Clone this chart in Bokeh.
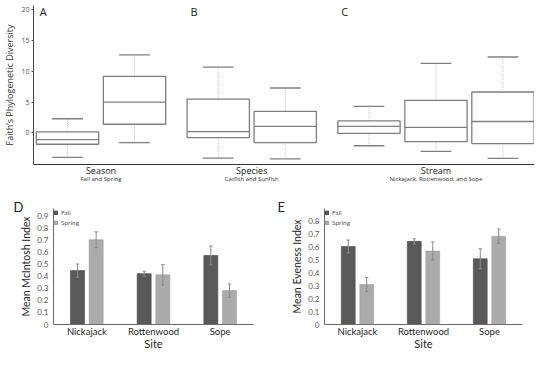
from bokeh.plotting import figure
from bokeh.models import (Range1d, FactorRange, LinearAxis, FixedTicker, ColumnDataSource,
                          Label, CustomJSTickFormatter)
from bokeh.transform import dodge
from bokeh.layouts import column, row
from bokeh.embed import file_html
from bokeh.resources import INLINE

# ---------------- top panel data (box plots) ----------------
box_groups = ["Season", "Species", "Stream"]
box_group_notes = ["Fall and Spring", "Catfish and Sunfish", "Nickajack, Rottenwood, and Sope"]
box_group_letters = ["A", "B", "C"]
box_names = ["Fall", "Spring", "Catfish", "Sunfish", "Nickajack", "Rottenwood", "Sope"]
box_group_index = [0, 0, 1, 1, 2, 2, 2]
box_whisker_low = [-4.0, -1.6, -4.1, -4.25, -2.1, -3.0, -4.15]
box_q1 = [-1.85, 1.4, -0.77, -1.6, -0.1, -1.43, -1.76]
box_median = [-1.1, 5.0, 0.2, 1.05, 1.05, 0.9, 1.85]
box_q3 = [0.15, 9.2, 5.5, 3.5, 1.95, 5.3, 6.65]
box_whisker_high = [2.3, 12.7, 10.7, 7.3, 4.3, 11.3, 12.35]
box_y_ticks = [0, 5, 10, 15, 20]

# ---------------- bottom panels data (bar charts) ----------------
sites = ["Nickajack", "Rottenwood", "Sope"]
seasons = ["Fall", "Spring"]
site_axis_title = "Site"
mcintosh_fall = [0.445, 0.42, 0.57]
mcintosh_fall_err = [0.055, 0.02, 0.078]
mcintosh_spring = [0.70, 0.41, 0.28]
mcintosh_spring_err = [0.065, 0.085, 0.055]
evenness_fall = [0.605, 0.645, 0.51]
evenness_fall_err = [0.05, 0.02, 0.078]
evenness_spring = [0.31, 0.57, 0.685]
evenness_spring_err = [0.055, 0.07, 0.055]
mcintosh_ticks = [0, 0.1, 0.2, 0.3, 0.4, 0.5, 0.6, 0.7, 0.8, 0.9]
evenness_ticks = [0, 0.1, 0.2, 0.3, 0.4, 0.5, 0.6, 0.7, 0.8]

TOP_FONT = "Open Sans"
BOT_FONT = "Lato"
BOX_LINE = "#7f7f7f"
WHISKER_LINE = "#c4c4c4"
FALL_COLOR = "#595959"
SPRING_COLOR = "#ababab"
ERR_COLOR = "#8a8a8a"

# ---------------- top figure ----------------
GAP = 0.25
BOX_W = 0.93
CAP_W = 0.46
pos = [i + GAP * g for i, g in enumerate(box_group_index)]

top = figure(width=534, height=187, x_range=Range1d(-0.508, 6.971), y_range=Range1d(-5.15, 20.73),
             output_backend="svg", toolbar_location=None, x_axis_location=None, title=None,
             min_border_left=26, min_border_right=0, min_border_top=5, min_border_bottom=23)
top.outline_line_color = None
top.grid.visible = False

bsrc = ColumnDataSource(dict(
    x=pos,
    left=[p - BOX_W / 2 for p in pos], right=[p + BOX_W / 2 for p in pos],
    cl=[p - CAP_W / 2 for p in pos], cr=[p + CAP_W / 2 for p in pos],
    lo=box_whisker_low, q1=box_q1, med=box_median, q3=box_q3, hi=box_whisker_high,
))
top.segment(x0="x", y0="q3", x1="x", y1="hi", source=bsrc, line_color=WHISKER_LINE,
            line_width=1, line_dash="1 1")
top.segment(x0="x", y0="lo", x1="x", y1="q1", source=bsrc, line_color=WHISKER_LINE,
            line_width=1, line_dash="1 1")
top.quad(left="left", right="right", bottom="q1", top="q3", source=bsrc,
         fill_color="white", line_color=BOX_LINE, line_width=1.3)
top.segment(x0="left", y0="med", x1="right", y1="med", source=bsrc, line_color=BOX_LINE, line_width=1.3)
top.segment(x0="cl", y0="hi", x1="cr", y1="hi", source=bsrc, line_color=BOX_LINE, line_width=1.3)
top.segment(x0="cl", y0="lo", x1="cr", y1="lo", source=bsrc, line_color=BOX_LINE, line_width=1.3)

yax = top.yaxis[0]
yax.ticker = FixedTicker(ticks=box_y_ticks)
yax.axis_label = "Faith\u2019s Phylogenetic Diversity"
yax.axis_label_text_font = TOP_FONT
yax.axis_label_text_font_size = "9px"
yax.axis_label_text_font_style = "normal"
yax.axis_label_text_color = "#333333"
yax.axis_label_standoff = 2
yax.major_label_text_font = TOP_FONT
yax.major_label_text_font_size = "7px"
yax.major_label_text_color = "#555555"
yax.major_label_standoff = 2
yax.major_tick_out = 2
yax.major_tick_in = 0
yax.major_tick_line_color = "#555555"
yax.minor_tick_line_color = None
yax.axis_line_color = "#444444"

group_centers = []
for g in range(len(box_groups)):
    members = [pos[i] for i in range(len(pos)) if box_group_index[i] == g]
    group_centers.append((min(members) + max(members)) / 2)

xax = LinearAxis(ticker=FixedTicker(ticks=group_centers),
                 major_label_overrides={c: n for c, n in zip(group_centers, box_groups)})
xax.major_label_text_font = TOP_FONT
xax.major_label_text_font_size = "9px"
xax.major_label_text_color = "#222222"
xax.major_label_standoff = -1
xax.major_tick_out = 0
xax.major_tick_in = 0
xax.minor_tick_line_color = None
xax.axis_line_color = "#333333"
top.add_layout(xax, "below")

xax2 = LinearAxis(ticker=FixedTicker(ticks=group_centers),
                  major_label_overrides={c: n for c, n in zip(group_centers, box_group_notes)})
xax2.major_label_text_font = TOP_FONT
xax2.major_label_text_font_size = "6px"
xax2.major_label_text_color = "#333333"
xax2.major_label_standoff = -5
xax2.major_tick_out = 0
xax2.major_tick_in = 0
xax2.minor_tick_line_color = None
xax2.axis_line_color = None
top.add_layout(xax2, "below")

for g, letter in enumerate(box_group_letters):
    first = min(pos[i] for i in range(len(pos)) if box_group_index[i] == g)
    top.add_layout(Label(x=first - BOX_W / 2 + 0.05, y=19.75, text=letter,
                         text_font=TOP_FONT, text_font_size="11px", text_color="#222222",
                         text_baseline="middle", text_align="left"))


# ---------------- bar panels ----------------
def bar_panel(letter, ylabel, fall, fall_err, spring, spring_err, ticks, ymax,
              border_left, border_right, letter_offset):
    p = figure(width=267, height=165, x_range=FactorRange(factors=sites, range_padding=0),
               y_range=Range1d(0, ymax), output_backend="svg", toolbar_location=None, title=letter,
               min_border_left=border_left, min_border_right=border_right,
               min_border_top=21, min_border_bottom=20)
    p.outline_line_color = None
    p.grid.visible = False
    p.title.align = "left"
    p.title.offset = letter_offset
    p.title.standoff = -13
    p.title.text_font = BOT_FONT
    p.title.text_font_size = "13px"
    p.title.text_font_style = "normal"
    p.title.text_color = "#222222"

    src = ColumnDataSource(dict(
        site=sites, fall=fall, spring=spring,
        fall_lo=[v - e for v, e in zip(fall, fall_err)], fall_hi=[v + e for v, e in zip(fall, fall_err)],
        spring_lo=[v - e for v, e in zip(spring, spring_err)],
        spring_hi=[v + e for v, e in zip(spring, spring_err)],
    ))
    OFF = 0.14
    BW = 0.21
    CAP = 0.025
    for key, off, color, edge, name in [("fall", -OFF, FALL_COLOR, "#4a4a4a", seasons[0]),
                                        ("spring", OFF, SPRING_COLOR, "#a0a0a0", seasons[1])]:
        p.vbar(x=dodge("site", off, range=p.x_range), top=key, width=BW, source=src,
               fill_color=color, line_color=edge, line_width=0.6, legend_label=name)
        p.segment(x0=dodge("site", off, range=p.x_range), y0=key + "_lo",
                  x1=dodge("site", off, range=p.x_range), y1=key + "_hi",
                  source=src, line_color=ERR_COLOR, line_width=1)
        for end in ("_lo", "_hi"):
            p.segment(x0=dodge("site", off - CAP, range=p.x_range), y0=key + end,
                      x1=dodge("site", off + CAP, range=p.x_range), y1=key + end,
                      source=src, line_color=ERR_COLOR, line_width=1)

    ya = p.yaxis[0]
    ya.ticker = FixedTicker(ticks=ticks)
    ya.formatter = CustomJSTickFormatter(code="return tick == 0 ? '0' : tick.toFixed(1);")
    ya.axis_label = ylabel
    ya.axis_label_text_font = BOT_FONT
    ya.axis_label_text_font_size = "10.5px"
    ya.axis_label_text_font_style = "normal"
    ya.axis_label_text_color = "#262626"
    ya.axis_label_standoff = 2
    ya.major_label_text_font = BOT_FONT
    ya.major_label_text_font_size = "8px"
    ya.major_label_text_color = "#595959"
    ya.major_label_standoff = 5
    ya.major_tick_out = 0
    ya.major_tick_in = 0
    ya.minor_tick_line_color = None
    ya.axis_line_color = "#6a6a6a"

    xa = p.xaxis[0]
    xa.major_label_text_font = BOT_FONT
    xa.major_label_text_font_size = "9.5px"
    xa.major_label_text_color = "#262626"
    xa.major_label_standoff = 1
    xa.major_tick_out = 0
    xa.major_tick_in = 0
    xa.axis_line_color = "#6a6a6a"

    # axis title "Site" as a second, line-less axis below the site names
    title_pos = len(sites) / 2
    xa2 = LinearAxis(ticker=FixedTicker(ticks=[title_pos]),
                     major_label_overrides={title_pos: site_axis_title})
    xa2.major_label_text_font = BOT_FONT
    xa2.major_label_text_font_size = "11px"
    xa2.major_label_text_color = "#262626"
    xa2.major_label_standoff = -3
    xa2.major_tick_out = 0
    xa2.major_tick_in = 0
    xa2.minor_tick_line_color = None
    xa2.axis_line_color = None
    p.add_layout(xa2, "below")

    lg = p.legend[0]
    lg.location = "top_left"
    lg.margin = 0
    lg.padding = 4
    lg.spacing = 2
    lg.glyph_width = 5
    lg.glyph_height = 5
    lg.label_height = 8
    lg.label_standoff = 3
    lg.label_text_font = BOT_FONT
    lg.label_text_font_size = "6.5px"
    lg.label_text_color = "#595959"
    lg.background_fill_alpha = 0
    lg.border_line_color = None
    return p


pD = bar_panel("D", "Mean McIntosh Index", mcintosh_fall, mcintosh_fall_err,
               mcintosh_spring, mcintosh_spring_err, mcintosh_ticks, 0.958, 53, 14, -40)
pE = bar_panel("E", "Mean Eveness Index", evenness_fall, evenness_fall_err,
               evenness_spring, evenness_spring_err, evenness_ticks, 0.9, 57, 12, -47)

layout = column(top, row(pD, pE, spacing=0), spacing=0)

with open("out.html", "w") as f:
    f.write(file_html(layout, INLINE))
